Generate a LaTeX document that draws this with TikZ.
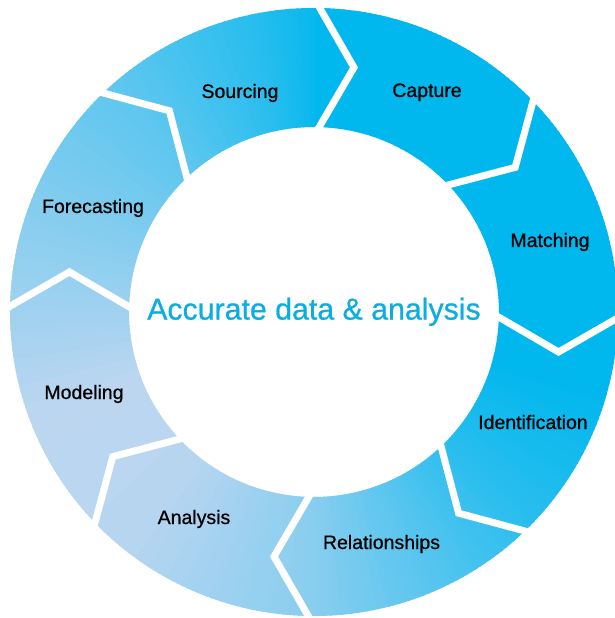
\documentclass[tikz,border=0pt]{standalone}
\usepackage{fontspec}
\setmainfont{Liberation Sans}
\newfontfamily\labfont[FakeBold=0.7]{Liberation Sans}
\definecolor{cyanc}{RGB}{0,183,238}
\definecolor{lightc}{RGB}{188,214,240}
\definecolor{titlec}{RGB}{12,174,226}
\begin{document}
\begin{tikzpicture}[
  gap/.style={draw=white, line width=7pt, line join=miter},
  lab/.style={font=\labfont\fontsize{19.5}{22}\selectfont, text=black, anchor=base, inner sep=0pt},
  title/.style={font=\labfont\fontsize{30.3}{34}\selectfont, text=titlec, anchor=base, inner sep=0pt},
]
\fill[white] (-314pt,-306pt) rectangle (301pt,312pt);
\useasboundingbox (-314pt,-306pt) rectangle (301pt,312pt);
\begin{scope}
\clip (-314pt,-306pt) rectangle (301pt,312pt);
\foreach \a in {0,...,359}{
  \pgfmathsetmacro\t{(\a<90) ? 0 : ((\a<100) ? 0.05+(\a-90)*0.015 : ((\a<130) ? 0.2+(\a-100)*0.01 : ((\a<200) ? 0.5+(\a-130)/140 : ((\a<230) ? 1-(\a-200)*0.02/30 : ((\a<270) ? 0.98-(\a-230)*0.26/40 : ((\a<315) ? 0.72-(\a-270)*0.5/45 : ((\a<345) ? 0.22-(\a-315)*0.22/30 : 0)))))))}
  \pgfmathtruncatemacro\tp{round(100*\t)}
  \fill[lightc!\tp!cyanc] (\a:185pt) arc[start angle=\a, end angle=\a+1.5, radius=185pt] -- (\a+1.5:304pt) arc[start angle=\a+1.5, end angle=\a, radius=304pt] -- cycle;
}
\foreach \th in {90,45,0,-45,-90,-135,180,135}{
  \draw[gap] (\th:314pt) -- (\th-9.29:247.8pt) -- (\th:176pt);
}
\end{scope}
\node[lab] (sourcing) at (-74pt,214pt) {Sourcing};
\node[lab] (capture) at (113pt,215pt) {Capture};
\node[lab] (matching) at (236pt,65pt) {Matching};
\node[lab] (identification) at (219pt,-117pt) {Identification};
\node[lab] (relationships) at (67.5pt,-237pt) {Relationships};
\node[lab] (analysis) at (-120pt,-212pt) {Analysis};
\node[lab] (modeling) at (-230pt,-87pt) {Modeling};
\node[lab] (forecasting) at (-221pt,99pt) {Forecasting};
\node[title] (center) at (0pt,-7.6pt) {Accurate data \& analysis};
\end{tikzpicture}
\end{document}
